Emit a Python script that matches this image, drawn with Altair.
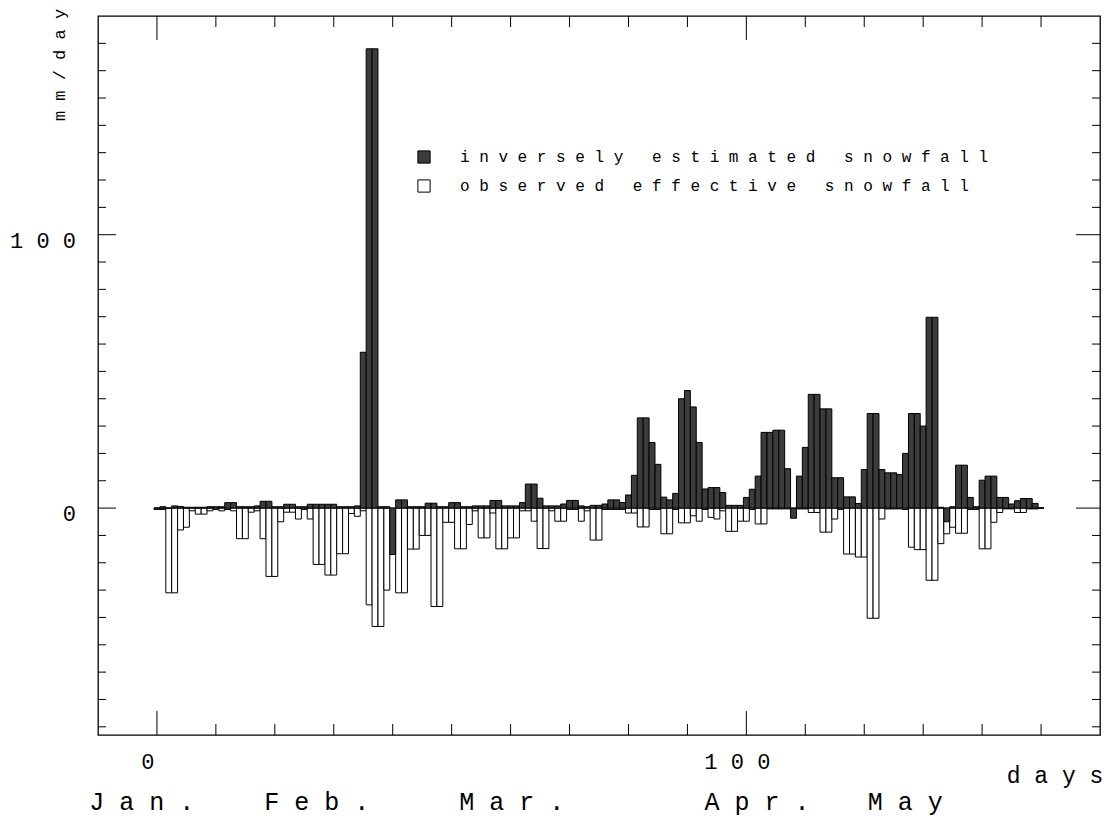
import altair as alt
import pandas as pd

# ---------------- data ----------------
DAYS = list(range(0, 151))

# inversely estimated snowfall (mm/day), one value per day 0..150
ESTIMATED = [
    0, 0.5, 0, 0.8, 0.6, 0.3, 0.3, 0.3, 0.3, 0.5,           # 0-9
    0.5, 0.5, 2, 2, 0.5, 0.5, 0.5, 0.8, 2.5, 2.5,           # 10-19
    0.5, 0.5, 1.4, 1.4, 0.5, 0.5, 1.4, 1.4, 1.4, 1.4,       # 20-29
    1.4, 0.5, 0.5, 0.5, 0.8, 57, 168, 168, 0.5, 0.5,        # 30-39
    -17, 3, 3, 0.5, 0.5, 0.5, 1.8, 1.8, 0.5, 0.5,           # 40-49
    2, 2, 0.5, 0.5, 0.8, 0.8, 0.8, 2.8, 2.8, 0.8,           # 50-59
    0.8, 0.8, 2, 8.8, 8.8, 3.6, 0.8, 0.8, 0.8, 1.5,         # 60-69
    2.8, 2.8, 0.8, 0.5, 1, 1, 1.5, 3, 3, 2,                 # 70-79
    4.8, 12, 33, 33, 24, 16, 4, 3, 5.4, 40,                 # 80-89
    43, 37, 24, 7, 7.5, 7.5, 5.7, 1, 1, 1,                  # 90-99
    3.9, 6.9, 11.7, 27.7, 27.7, 28.5, 28.5, 14.4, -3.7, 11.7,   # 100-109
    22.2, 41.6, 41.6, 36.3, 36.3, 11.1, 11.1, 4.1, 4.1, 1.7,    # 110-119
    14.1, 34.6, 34.6, 14.1, 12.9, 12.9, 12.3, 20, 34.6, 34.6,   # 120-129
    30, 69.8, 69.8, 0.3, -5, 0.5, 15.7, 15.7, 3.9, 0.5,         # 130-139
    10.2, 11.7, 11.7, 3.9, 3.9, 1.5, 2.7, 3.5, 3.5, 1.7,        # 140-149
    0,                                                          # 150
]

# observed effective snowfall (mm/day), drawn downwards
OBSERVED = [
    0.5, 0.5, 31, 31, 8, 7, 1, 2.2, 2.2, 1,                 # 0-9
    0.5, 1, 0.5, 1, 11.2, 11.2, 1.5, 1, 11.2, 25,           # 10-19
    25, 5, 1.5, 1.5, 4, 0.5, 4, 20.6, 20.6, 24.5,           # 20-29
    24.5, 16.7, 16.7, 2, 3, 1, 35.4, 43.3, 43.3, 30,        # 30-39
    1, 31, 31, 15, 15, 10, 10, 36, 36, 5.2,                 # 40-49
    5.2, 14.9, 14.9, 6, 1, 10.9, 10.9, 1.8, 14.9, 14.9,     # 50-59
    10.9, 10.9, 1, 1, 4.8, 14.8, 14.8, 1, 4.8, 4.8,         # 60-69
    0.5, 0.5, 4.8, 1, 11.7, 11.7, 0.5, 0.5, 0.5, 0.5,       # 70-79
    1.8, 1.8, 6.9, 6.9, 0.5, 0.5, 9.4, 9.4, 0.5, 5.4,       # 80-89
    5.4, 2.8, 4.8, 0.5, 3.4, 4, 1, 8.5, 8.5, 4.8,           # 90-99
    4.8, 0.5, 5.8, 5.8, 0.3, 0.3, 0.3, 0.3, 0.3, 0.3,       # 100-109
    0.3, 1.6, 1.6, 8.8, 8.8, 4, 0.5, 16.8, 16.8, 17.9,      # 110-119
    17.9, 40.3, 40.3, 4, 0.3, 0.3, 0.3, 0.5, 14.3, 15.2,    # 120-129
    15.2, 26.4, 26.4, 13, 9.4, 7, 9.2, 9.2, 0.5, 0.5,       # 130-139
    14.9, 14.9, 5.2, 1.6, 0.3, 0.3, 1.6, 1.6, 0.3, 0.3,     # 140-149
    0,                                                      # 150
]

SERIES = ["inversely estimated snowfall", "observed effective snowfall"]
SERIES_COLORS = ["#3c3c3c", "#ffffff"]

X_LABEL_VALUES = [0, 100]
Y_LABEL_VALUES = [0, 100]
X_TICKS_MINOR = [10, 20, 30, 40, 50, 60, 70, 80, 90, 110, 120, 130, 140, 150]
X_TICKS_MAJOR = [0, 100]
Y_TICKS_MINOR = [-80, -70, -60, -50, -40, -30, -20, -10, 10, 20, 30, 40,
                 50, 60, 70, 80, 90, 110, 120, 130, 140, 150, 160, 170]
Y_TICKS_MAJOR = [0, 100]

MONTHS = ["Jan.", "Feb.", "Mar.", "Apr.", "May"]
MONTH_LABEL_DAYS = [-11.5, 18.2, 51.3, 92.9, 120.6]   # left edge of each label, in days

X_TITLE = "days"
Y_TITLE = "mm/day"

# ---------------- layout ----------------
W, H = 1002, 719
FONT = "Liberation Mono"
NB = "\u00a0"
SPACED_LABEL = "join(split(datum.label, ''), '" + NB + "')"

x_scale = alt.Scale(domain=[-10, 160], nice=False, zero=False)
y_scale = alt.Scale(domain=[-83, 180], nice=False, zero=False)

# long table: observed first so that estimated bars are drawn on top
rows = []
for d, v in zip(DAYS, OBSERVED):
    rows.append({"start": d - 0.5, "end": d + 0.5, "value": -v, "series": SERIES[1], "order": 0})
for d, v in zip(DAYS, ESTIMATED):
    rows.append({"start": d - 0.5, "end": d + 0.5, "value": v, "series": SERIES[0], "order": 1})
bars_df = pd.DataFrame(rows)

bars = alt.Chart(bars_df).mark_bar(stroke="black", strokeWidth=1, strokeOpacity=1, opacity=1).encode(
    x=alt.X("start:Q", scale=x_scale, axis=None),
    x2="end:Q",
    y=alt.Y("value:Q", scale=y_scale, axis=None),
    y2=alt.datum(0),
    color=alt.Color(
        "series:N",
        scale=alt.Scale(domain=SERIES, range=SERIES_COLORS),
        legend=alt.Legend(
            title=None, orient="none", legendX=318, legendY=133,
            symbolType="square", symbolSize=150, symbolStrokeColor="black",
            symbolStrokeWidth=1, symbolOpacity=1,
            labelFont=FONT, labelFontSize=16, labelColor="black",
            labelExpr=SPACED_LABEL, labelOffset=28, rowPadding=11, labelLimit=900,
        ),
    ),
    order=alt.Order("order:Q"),
)


def x_rules(values, y0, y1):
    return alt.Chart(pd.DataFrame({"t": values})).mark_rule(color="black", strokeWidth=1).encode(
        x=alt.X("t:Q", scale=x_scale, axis=None), y=alt.value(y0), y2=alt.value(y1)
    )


def y_rules(values, x0, x1):
    return alt.Chart(pd.DataFrame({"t": values})).mark_rule(color="black", strokeWidth=1).encode(
        y=alt.Y("t:Q", scale=y_scale, axis=None), x=alt.value(x0), x2=alt.value(x1)
    )


ticks = [
    x_rules(X_TICKS_MINOR, H, H - 11),
    x_rules(X_TICKS_MAJOR, H, H - 24),
    x_rules(X_TICKS_MINOR, 0, 11),
    x_rules(X_TICKS_MAJOR, 0, 24),
    y_rules(Y_TICKS_MINOR, 0, 8),
    y_rules(Y_TICKS_MAJOR, 0, 18),
    y_rules(Y_TICKS_MINOR, W, W - 8),
    y_rules(Y_TICKS_MAJOR, W, W - 24),
]

SPACE_CALC = "join(split(datum.label, ''), '" + NB + "')"

x_labels = alt.Chart(pd.DataFrame({"v": X_LABEL_VALUES})).transform_calculate(
    label="format(datum.v, 'd')"
).transform_calculate(txt=SPACE_CALC).mark_text(
    font=FONT, fontSize=22, color="black", baseline="middle", align="center", dx=-9
).encode(
    x=alt.X("v:Q", scale=x_scale, axis=None), y=alt.value(H + 27), text="txt:N"
)

y_labels = alt.Chart(pd.DataFrame({"v": Y_LABEL_VALUES})).transform_calculate(
    label="format(datum.v, 'd')"
).transform_calculate(txt=SPACE_CALC).mark_text(
    font=FONT, fontSize=22, color="black", baseline="middle", align="right", dy=6
).encode(
    y=alt.Y("v:Q", scale=y_scale, axis=None), x=alt.value(-22), text="txt:N"
)

months = alt.Chart(pd.DataFrame({"label": MONTHS, "d": MONTH_LABEL_DAYS})).transform_calculate(
    txt=SPACE_CALC
).mark_text(font=FONT, fontSize=25, color="black", baseline="middle", align="left").encode(
    x=alt.X("d:Q", scale=x_scale, axis=None),
    y=alt.value(H + 67),
    text="txt:N",
)

x_title = alt.Chart(pd.DataFrame({"label": [X_TITLE]})).transform_calculate(
    txt=SPACE_CALC
).mark_text(font=FONT, fontSize=23, color="black", baseline="middle", align="center").encode(
    x=alt.value(957), y=alt.value(H + 41), text="txt:N"
)

y_title = alt.Chart(pd.DataFrame({"label": [Y_TITLE]})).transform_calculate(
    txt=SPACE_CALC
).mark_text(font=FONT, fontSize=17, color="black", baseline="middle", align="center", angle=270).encode(
    x=alt.value(-38), y=alt.value(49), text="txt:N"
)

chart = alt.layer(bars, *ticks, x_labels, y_labels, months, x_title, y_title).properties(
    width=W, height=H,
    autosize=alt.AutoSizeParams(type="none"),
    padding={"left": 90, "top": 8, "right": 9, "bottom": 83},
    background="white",
).configure_view(stroke="black", strokeWidth=1.3)

chart.save("out.html", embed_options={"renderer": "svg", "actions": False})
